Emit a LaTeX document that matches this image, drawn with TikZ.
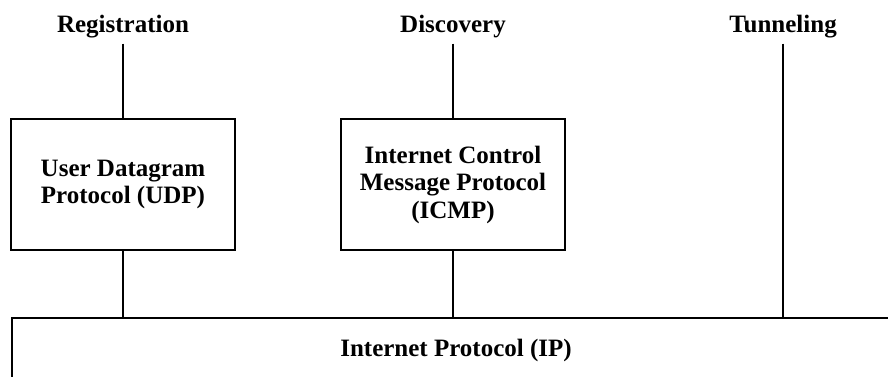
\documentclass[tikz,border=0pt]{standalone}
\usepackage{fontspec}
\setmainfont{Liberation Serif}
\usepackage{xcolor}
\usetikzlibrary{positioning,calc}
\definecolor{ink}{HTML}{000000}

\tikzset{
  protolabel/.style={font=\bfseries\fontsize{25}{27.5}\selectfont, text=ink, inner sep=5pt, anchor=base},
  protobox/.style={draw=ink, line width=1.1pt, fill=white, align=center,
                   font=\bfseries\fontsize{25}{27.5}\selectfont, text=ink,
                   minimum width=224pt, minimum height=131pt, inner sep=0pt},
  stackline/.style={draw=ink, line width=1.1pt}
}

\begin{document}
\begin{tikzpicture}[x=1pt,y=-1pt]
      \useasboundingbox (0,0) rectangle (888,377);
      \clip (0,0) rectangle (888,377);
      % mobility functions on top
      \node[protolabel] (reg)  at (123,33) {Registration};
      \node[protolabel] (disc) at (453,33) {Discovery};
      \node[protolabel] (tun)  at (783,33) {Tunneling};
      % transport / control layer
      \node[protobox] (udp)  at (123,184.5) {User Datagram\\Protocol (UDP)};
      \node[protobox] (icmp) at (453,184.5) {Internet Control\\Message Protocol\\(ICMP)};
      % network layer, runs off the page
      \node[protobox, minimum width=888pt, minimum height=64pt] (ip) at (456,350) {Internet Protocol (IP)};
      \draw[stackline] (reg) -- (udp);
      \draw[stackline] (disc) -- (icmp);
      \draw[stackline] (udp.south) -- (udp.south |- ip.north);
      \draw[stackline] (icmp.south) -- (icmp.south |- ip.north);
      \draw[stackline] (tun) -- (tun |- ip.north);
    \end{tikzpicture}
\end{document}
